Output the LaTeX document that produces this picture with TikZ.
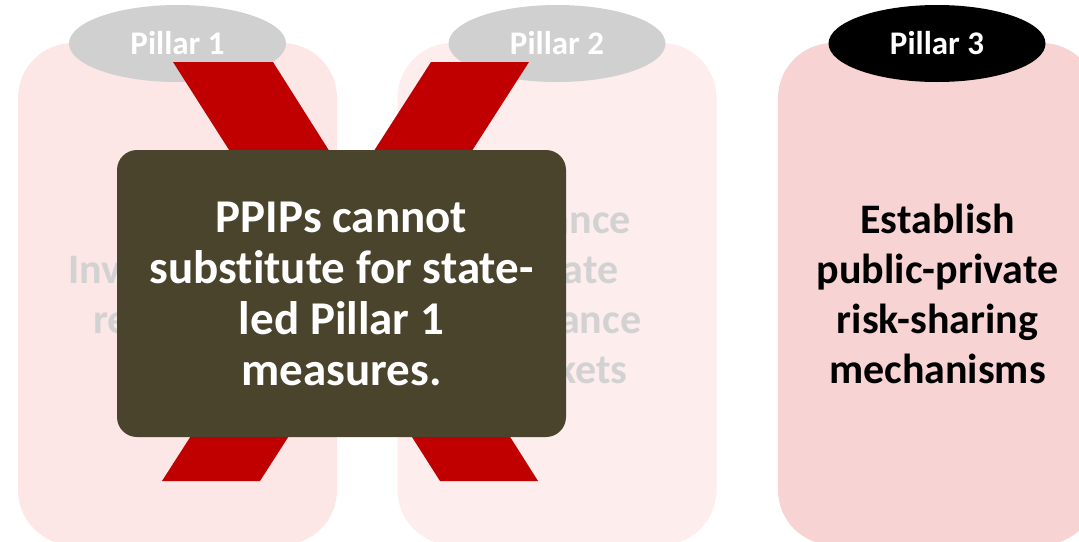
\documentclass[tikz,border=0pt]{standalone}
\usepackage{fontspec}
\newfontfamily\carlito[Ligatures={NoCommon,NoRequired,NoContextual}]{Carlito}
\usetikzlibrary{shapes.geometric}
\definecolor{boxA}{RGB}{252,230,230}
\definecolor{boxB}{RGB}{253,237,237}
\definecolor{boxC}{RGB}{248,211,211}
\definecolor{pillgray}{RGB}{208,208,208}
\definecolor{fadetext}{RGB}{210,210,210}
\definecolor{xred}{RGB}{192,0,0}
\definecolor{darkbox}{RGB}{74,68,44}
\tikzset{
  pillarbox/.style={rectangle, rounded corners=27.5pt, minimum width=159.5pt, minimum height=251pt, inner sep=0pt, align=center, font=\carlito\bfseries\fontsize{21}{25}\selectfont},
  pilllabel/.style={ellipse, minimum width=108.5pt, minimum height=38.5pt, inner sep=0pt, text=white, font=\carlito\bfseries\fontsize{16.5}{19}\selectfont},
  notebox/.style={rectangle, rounded corners=10pt, fill=darkbox, minimum width=224.5pt, minimum height=143.5pt, inner sep=0pt, align=center, text=white, font=\carlito\bfseries\fontsize{23.5}{25.5}\selectfont}
}
\begin{document}
\begin{tikzpicture}[x=0.5pt,y=-0.5pt]
\useasboundingbox (0,0) rectangle (1079,541);
\clip (0,0) rectangle (1079,541);
% pillar boxes
\node[pillarbox, fill=boxA, text=fadetext] (b1) at (177.5,294) {Invest in risk\\reduction};
\node[pillarbox, fill=boxB, text=fadetext] (b2) at (557,294) {Enhance\\private\\insurance\\markets};
\node[pillarbox, fill=boxC, text=black] (b3) at (937.5,294) {Establish\\public-private\\risk-sharing\\mechanisms};
% pillar labels
\node[pilllabel, fill=pillgray] (p1) at (177.5,43.5) {Pillar 1};
\node[pilllabel, fill=pillgray] (p2) at (557,43.5) {Pillar 2};
\node[pilllabel, fill=black] (p3) at (937,43.5) {Pillar 3};
% red cross
\fill[xred] (173,62) -- (273,62) -- (538,481) -- (440,481) -- cycle;
\fill[xred] (431,62) -- (529,62) -- (260,481) -- (162,481) -- cycle;
% note box
\node[notebox] (note) at (341.5,293.5) {PPIPs cannot\\substitute for state-\\led Pillar 1\\measures.};
\end{tikzpicture}
\end{document}
